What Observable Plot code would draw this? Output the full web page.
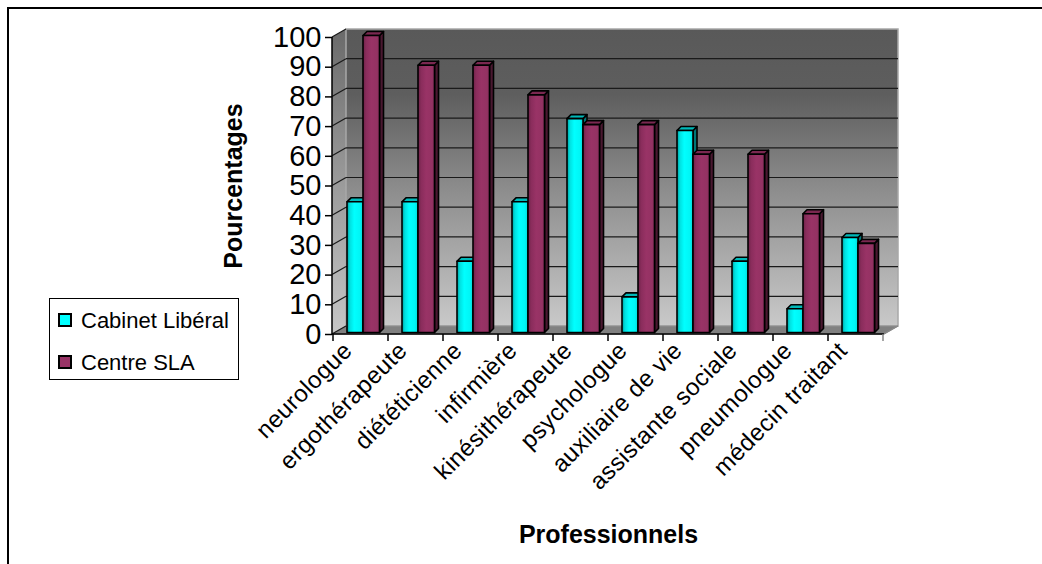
<!DOCTYPE html>
<html>
<head>
<meta charset="utf-8">
<script src="https://cdn.jsdelivr.net/npm/d3@7"></script>
<script src="https://cdn.jsdelivr.net/npm/@observablehq/plot@0.6"></script>
<style>
  body { margin: 0; background: #fff; font-family: Arial, "Liberation Sans", sans-serif; }
  #wrap { position: relative; width: 1042px; height: 564px; overflow: hidden; }
  #border { position: absolute; left: 7px; top: 7px; width: 1100px; height: 700px;
            border-left: 2px solid #000; border-top: 2px solid #000; box-sizing: border-box; }
  #chart { position: absolute; left: 0; top: 0; }
  #legend { position: absolute; left: 49px; top: 298px; width: 190px; height: 82px;
            border: 1px solid #000; box-sizing: border-box; background: #fff; }
  .item { position: absolute; left: 8px; font-size: 22px; line-height: 22px; color: #000; white-space: nowrap; }
  .swatch { display: inline-block; width: 10px; height: 10px; border: 2px solid #000; margin-right: 9px; vertical-align: 1px; }
  g[aria-label="x-axis tick label"] text { letter-spacing: 0.4px; }
</style>
</head>
<body>
<div id="wrap">
  <div id="border"></div>
  <div id="chart"></div>
  <div id="legend"></div>
</div>
<script>
// Professions and the share (%) of each care setting that involves them
const categories = ["neurologue", "ergothérapeute", "diététicienne", "infirmière", "kinésithérapeute",
                    "psychologue", "auxiliaire de vie", "assistante sociale", "pneumologue", "médecin traitant"];
const seriesNames = ["Cabinet Libéral", "Centre SLA"];
const cabinetLiberal = [44, 44, 24, 44, 72, 12, 68, 24, 8, 32];
const centreSLA = [100, 90, 90, 80, 70, 70, 60, 60, 40, 30];
const yTicks = [0, 10, 20, 30, 40, 50, 60, 70, 80, 90, 100];

const seriesValues = [cabinetLiberal, centreSLA];
const rows = categories.flatMap((c, i) => seriesNames.map((s, k) => ({category: c, series: s, value: seriesValues[k][i]})));

// 3‑D look: depth of the walls and of the bars (pixels)
const WALL_DX = 14, WALL_DY = -8;
const BAR_D = 4, BAR_LIFT = -1.5;
const barSlots = [[14, 30], [30, 46.5]]; // horizontal span of each series inside a category band
const palette = {
  front: ["url(#cyanFront)", "url(#plumFront)"],
  side: ["#007878", "#4a1830"],
  top: ["#00b8b8", "#7a2850"],
  swatch: ["#00ffff", "#993366"]
};

function walls(index, scales, values, dims) {
  const {x, y} = scales;
  const L = dims.marginLeft, R = dims.width - dims.marginRight;
  const y0 = y(0), y100 = y(100);
  const bw = typeof x.bandwidth === "function" ? x.bandwidth() : (R - L) / categories.length;
  const g = d3.create("svg:g");
  const defs = g.append("defs");
  const grad = (id, x2, y2, stops) => {
    const lg = defs.append("linearGradient").attr("id", id).attr("x1", 0).attr("y1", 0).attr("x2", x2).attr("y2", y2);
    stops.forEach(([o, c]) => lg.append("stop").attr("offset", o).attr("stop-color", c));
  };
  grad("backWall", 0, 1, [["0", "#595959"], ["0.22", "#5e5e5e"], ["0.55", "#8e8e8e"], ["1", "#c9c9c9"]]);
  grad("sideWall", 0, 1, [["0", "#6a6a6a"], ["0.5", "#9a9a9a"], ["1", "#c6c6c6"]]);
  grad("cyanFront", 1, 0, [["0", "#009c9c"], ["0.18", "#00e0e0"], ["0.45", "#00ffff"], ["0.8", "#00f6f6"], ["1", "#00d8d8"]]);
  grad("plumFront", 1, 0, [["0", "#6e2248"], ["0.2", "#8a2d5c"], ["0.5", "#993366"], ["0.85", "#943263"], ["1", "#842c58"]]);

  // side wall
  g.append("path")
    .attr("d", `M${L},${y0}L${L},${y100}L${L + WALL_DX},${y100 + WALL_DY}L${L + WALL_DX},${y0 + WALL_DY}Z`)
    .attr("fill", "url(#sideWall)");
  // back wall
  g.append("rect")
    .attr("x", L + WALL_DX).attr("y", y100 + WALL_DY)
    .attr("width", R - L).attr("height", y0 - y100)
    .attr("fill", "url(#backWall)").attr("stroke", "#a8a8a8").attr("stroke-width", 1.5);
  // floor
  g.append("path")
    .attr("d", `M${L},${y0}L${R},${y0}L${R + WALL_DX},${y0 + WALL_DY}L${L + WALL_DX},${y0 + WALL_DY}Z`)
    .attr("fill", "#808080").attr("stroke", "#909090").attr("stroke-width", 1);
  // gridlines on the back wall and their continuation across the side wall
  for (const t of yTicks.slice(1, -1)) {
    const yy = y(t);
    g.append("line").attr("x1", L + WALL_DX).attr("x2", R + WALL_DX)
      .attr("y1", yy + WALL_DY).attr("y2", yy + WALL_DY)
      .attr("stroke", "#1a1a1a").attr("stroke-width", 1.2);
  }
  for (const t of yTicks) {
    const yy = y(t);
    g.append("line").attr("x1", L).attr("y1", yy).attr("x2", L + WALL_DX).attr("y2", yy + WALL_DY)
      .attr("stroke", "#1a1a1a").attr("stroke-width", 1.2);
  }
  // axis lines
  g.append("line").attr("x1", L).attr("x2", L).attr("y1", y100).attr("y2", y0).attr("stroke", "#000").attr("stroke-width", 1.5);
  g.append("line").attr("x1", L).attr("x2", R).attr("y1", y0).attr("y2", y0).attr("stroke", "#000").attr("stroke-width", 1.5);
  g.append("line").attr("x1", R).attr("y1", y0).attr("x2", R + WALL_DX).attr("y2", y0 + WALL_DY).attr("stroke", "#888").attr("stroke-width", 1.2);
  // category boundary ticks
  for (let i = 0; i <= categories.length; i++) {
    const xx = i < categories.length ? x(categories[i]) : x(categories[i - 1]) + bw;
    g.append("line").attr("x1", xx).attr("x2", xx).attr("y1", y0).attr("y2", y0 + 7)
      .attr("stroke", i === categories.length ? "#888" : "#000").attr("stroke-width", 1.5);
  }
  return g.node();
}

function bars3d(index, scales) {
  const {x, y} = scales;
  const g = d3.create("svg:g").attr("stroke", "#000").attr("stroke-width", 1.6).attr("stroke-linejoin", "round");
  categories.forEach((c, i) => {
    seriesValues.forEach((vals, k) => {
      const x0 = x(c) + barSlots[k][0], x1 = x(c) + barSlots[k][1];
      const yt = y(vals[i]) + BAR_LIFT, yb = y(0) + BAR_LIFT;
      g.append("path").attr("fill", palette.side[k])
        .attr("d", `M${x1},${yt}L${x1 + BAR_D},${yt - BAR_D}L${x1 + BAR_D},${yb - BAR_D}L${x1},${yb}Z`);
      g.append("path").attr("fill", palette.top[k])
        .attr("d", `M${x0},${yt}L${x0 + BAR_D},${yt - BAR_D}L${x1 + BAR_D},${yt - BAR_D}L${x1},${yt}Z`);
      g.append("rect").attr("fill", palette.front[k])
        .attr("x", x0).attr("y", yt).attr("width", x1 - x0).attr("height", yb - yt);
    });
  });
  return g.node();
}

const chart = Plot.plot({
  width: 1042,
  height: 564,
  marginLeft: 332,
  marginRight: 158,
  marginTop: 37,
  marginBottom: 230,
  style: {fontFamily: "Arial, 'Liberation Sans', sans-serif", color: "#000", background: "transparent", overflow: "visible"},
  x: {domain: categories, padding: 0, label: null},
  y: {domain: [0, 100], label: null},
  marks: [
    Plot.barY(rows, {x: "category", y: "value", fillOpacity: 0}),
    walls,
    bars3d,
    Plot.axisY({ticks: yTicks, tickSize: 7, tickPadding: 4, fontSize: 29, label: null, stroke: "#000", strokeWidth: 1.5}),
    Plot.axisX({tickSize: 0, tickPadding: 12, tickRotate: -45, fontSize: 24, label: null, dx: -13, fill: "#000"}),
    Plot.text(["Pourcentages"], {frameAnchor: "left", textAnchor: "middle", lineAnchor: "middle", rotate: -90, dx: -99, fontSize: 25, fontWeight: "bold", fill: "#000"}),
    Plot.text(["Professionnels"], {frameAnchor: "bottom", textAnchor: "middle", lineAnchor: "middle", dy: 200, fontSize: 25, fontWeight: "bold", fill: "#000"})
  ]
});
document.getElementById("chart").appendChild(chart);

// legend
const legend = d3.select("#legend");
seriesNames.forEach((name, k) => {
  const item = legend.append("div").attr("class", "item").style("top", `${11 + k * 42}px`);
  item.append("span").attr("class", "swatch").style("background", palette.swatch[k]);
  item.append("span").text(name);
});
</script>
</body>
</html>
